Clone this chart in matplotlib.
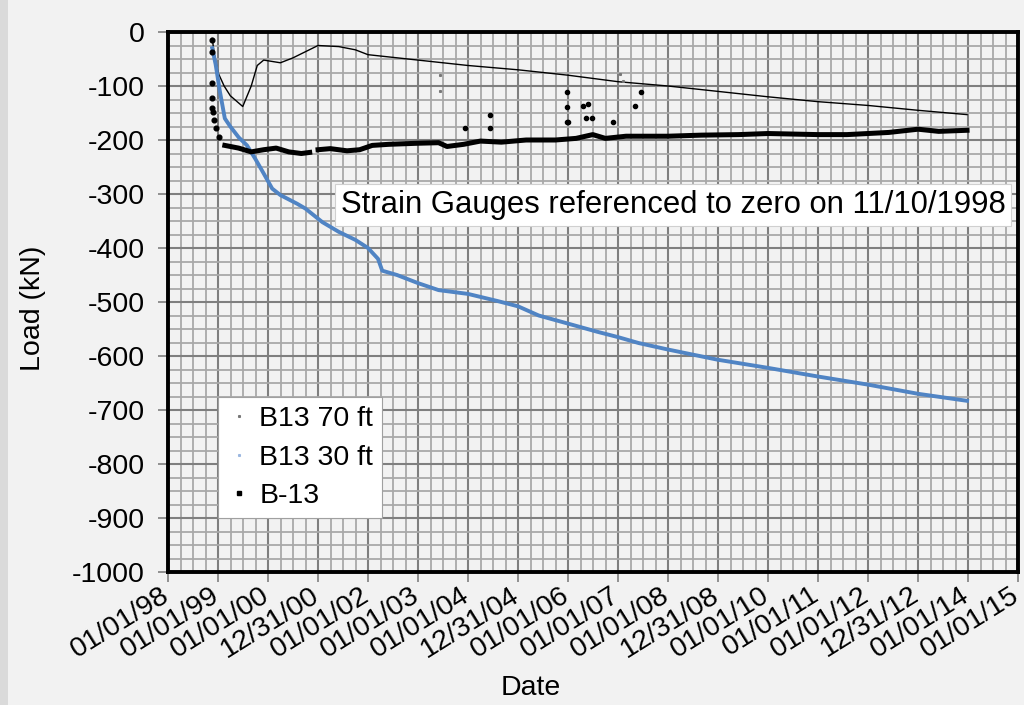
import matplotlib
matplotlib.use("Agg")
import matplotlib.pyplot as plt
import matplotlib.dates as mdates
import matplotlib.transforms as mtransforms
from matplotlib.lines import Line2D
from matplotlib.patches import Rectangle
import numpy as np
import pandas as pd

plt.rcParams['font.family'] = ['Liberation Sans', 'DejaVu Sans']

# ---------------- data ----------------
b70_dates = ["1998-11-20", "1998-12-05", "1999-01-01", "1999-02-15", "1999-04-01",
             "1999-07-01", "1999-09-01", "1999-10-15", "1999-12-01", "2000-04-01",
             "2000-07-01", "2001-01-01", "2001-06-01", "2001-10-01", "2002-01-01",
             "2003-01-01", "2004-01-01", "2005-01-01", "2006-01-01", "2007-01-01",
             "2008-01-01", "2009-01-01", "2010-01-01", "2011-01-01", "2012-01-01",
             "2013-01-01", "2013-12-25"]
b70_vals = [-12, -40, -75, -100, -118, -138, -100, -62, -52, -57,
            -48, -25, -27, -33, -42, -52, -62, -70, -80, -92,
            -100, -110, -120, -129, -136, -145, -153]

b70_extra_dates = ["2003-06-10", "2003-06-10", "2007-01-15", "2007-02-10"]
b70_extra_vals = [-80, -109, -78, -91]

b30_dates = ["1998-11-20", "1998-12-15", "1999-01-15", "1999-02-20", "1999-04-01",
             "1999-06-01", "1999-08-01", "1999-10-01", "1999-12-01", "2000-02-01",
             "2000-04-01", "2000-08-01", "2000-10-01", "2001-02-01", "2001-06-01",
             "2001-10-01", "2002-01-01", "2002-03-15", "2002-04-15", "2002-08-01",
             "2003-01-01", "2003-06-01", "2004-01-01", "2004-08-01", "2005-01-01",
             "2005-06-01", "2006-01-01", "2006-08-01", "2007-01-01", "2007-06-01",
             "2008-01-01", "2009-01-01", "2010-01-01", "2011-01-01", "2012-01-01",
             "2013-01-01", "2013-12-25"]
b30_vals = [-30, -60, -110, -160, -175, -195, -210, -235, -262, -290,
            -302, -318, -327, -352, -370, -385, -400, -420, -442, -450,
            -465, -478, -485, -498, -508, -525, -540, -555, -565, -576,
            -588, -607, -622, -638, -653, -670, -683]

b13_seg1_dates = ["1999-02-20", "1999-06-01", "1999-09-01", "1999-12-01", "2000-03-01",
                  "2000-06-01", "2000-09-01", "2000-11-01"]
b13_seg1_vals = [-210, -215, -222, -218, -215, -222, -225, -223]

b13_seg2_dates = ["2001-01-01", "2001-04-01", "2001-08-01", "2001-11-01", "2002-02-01",
                  "2002-06-01", "2003-01-01", "2003-06-01", "2003-08-01", "2003-12-01",
                  "2004-04-01", "2004-09-01", "2005-03-01", "2005-10-01", "2006-03-01",
                  "2006-07-01", "2006-10-01", "2007-03-01", "2008-01-01", "2008-09-01",
                  "2009-06-01", "2010-01-01", "2011-01-01", "2011-08-01", "2012-06-01",
                  "2013-01-01", "2013-06-01", "2013-12-25"]
b13_seg2_vals = [-218, -216, -220, -218, -210, -208, -206, -205, -212, -208,
                 -202, -204, -200, -200, -197, -190, -197, -193, -193, -191,
                 -190, -188, -190, -190, -186, -180, -184, -182]

b13_early_dates = ["1998-11-22", "1998-11-20", "1998-11-18", "1998-11-15", "1998-11-18",
                   "1998-11-28", "1998-12-05", "1998-12-15", "1999-01-05"]
b13_early_vals = [-15, -37, -95, -122, -141, -148, -163, -178, -194]

b13_out_dates = ["2005-12-25", "2005-12-25", "2005-12-28", "2006-01-01", "2006-04-20",
                 "2006-05-27", "2006-05-12", "2006-06-25", "2006-11-25", "2007-05-04",
                 "2007-06-17", "2003-12-08", "2004-06-09", "2004-06-09"]
b13_out_vals = [-111, -139, -167, -167, -137, -133, -159, -159, -167, -137,
                -111, -178, -154, -178]

tick_labels = ["01/01/98", "01/01/99", "01/01/00", "12/31/00", "01/01/02", "01/01/03",
               "01/01/04", "12/31/04", "01/01/06", "01/01/07", "01/01/08", "12/31/08",
               "01/01/10", "01/01/11", "01/01/12", "12/31/12", "01/01/14", "01/01/15"]
y_ticks = list(range(-1000, 1, 100))

series_names = ["B13 70 ft", "B13 30 ft", "B-13"]
annotation = "Strain Gauges referenced to zero on 11/10/1998"

# ---------------- figure ----------------
bg = "#f2f2f2"
W, H = 1024, 705
fig = plt.figure(figsize=(W / 100, H / 100), dpi=100, facecolor=bg)
fig.patches.append(Rectangle((0, 0), 8 / W, 1, transform=fig.transFigure,
                             facecolor="#dadada", edgecolor="none", zorder=0))
ax = fig.add_axes([168 / W, 1 - 572 / H, 850 / W, 540 / H])
ax.set_facecolor(bg)

def d(lst):
    return mdates.date2num(pd.to_datetime(lst).to_pydatetime())

start = mdates.date2num(pd.Timestamp("1998-01-01").to_pydatetime())
major = [start + i * 365.25 for i in range(len(tick_labels))]
minor = [start + i * 365.25 / 4 for i in range(4 * (len(tick_labels) - 1) + 1)]

FS = 20.5
ax.set_xlim(major[0], major[-1])
ax.set_ylim(-1000, 0)
ax.set_xticks(major)
ax.set_xticks(minor, minor=True)
ax.set_xticklabels([])
ax.set_yticks(y_ticks)
ax.set_yticks(np.arange(-1000, 1, 25), minor=True)
ax.set_yticklabels([str(v) for v in y_ticks], fontsize=FS)

# rotated date labels, drawn at the tick positions with a small offset
lab_tr = ax.get_xaxis_transform() + mtransforms.ScaledTranslation(-8 / 100, -10 / 100,
                                                                  fig.dpi_scale_trans)
for m, lab in zip(major, tick_labels):
    ax.text(m, 0, lab, transform=lab_tr, rotation=32, ha="right", va="top",
            rotation_mode="anchor", fontsize=FS, clip_on=False)

ax.grid(which="minor", color="#a8a8a8", lw=1.3, zorder=0)
ax.grid(which="major", color="#7f7f7f", lw=1.5, zorder=0)
ax.set_axisbelow(True)
ax.tick_params(axis="both", which="major", direction="out", length=7, width=1.2,
               color="#7f7f7f")
ax.tick_params(axis="y", which="major", pad=10)
ax.tick_params(axis="both", which="minor", length=0)
for s in ax.spines.values():
    s.set_linewidth(2.8)
    s.set_color("black")

# series
ax.plot(d(b70_dates), b70_vals, color="black", lw=1.0, zorder=3)
ax.plot(d(b70_extra_dates), b70_extra_vals, ls="none", marker="s", ms=1.2,
        color="#777777", zorder=3)
ax.plot(d(b30_dates), b30_vals, color="#5084c4", lw=2.8, zorder=4)
ax.plot(d(b13_seg1_dates), b13_seg1_vals, color="black", lw=3.6, zorder=5)
ax.plot(d(b13_seg2_dates), b13_seg2_vals, color="black", lw=3.6, zorder=5)
ax.plot(d(b13_early_dates), b13_early_vals, ls="none", marker="o", ms=3.4,
        color="black", zorder=5)
ax.plot(d(b13_out_dates), b13_out_vals, ls="none", marker="o", ms=3.0,
        color="black", zorder=5)

ax.set_ylabel("Load (kN)", fontsize=FS)
ax.yaxis.set_label_coords((33 - 168) / 850, (572 - 308) / 540)
ax.set_xlabel("Date", fontsize=FS)
ax.xaxis.set_label_coords((531 - 168) / 850, (572 - 688) / 540)
ax.xaxis.label.set_va("center")
ax.yaxis.label.set_va("center")

# annotation
ax.text((341 - 168) / 850, (572 - 205) / 540, annotation, transform=ax.transAxes,
        fontsize=22.3, va="center", ha="left", zorder=6,
        bbox=dict(boxstyle="square,pad=0.18", facecolor="white", edgecolor="#d0d0d0", lw=0.8))

# legend
handles = [Line2D([], [], ls="none", marker="s", ms=1.2, color="#777777"),
           Line2D([], [], ls="none", marker="s", ms=1.2, color="#9bb7e0"),
           Line2D([], [], ls="none", marker="s", ms=2.2, color="black")]
leg = ax.legend(handles, series_names, loc="lower left",
                bbox_to_anchor=((218 - 168) / 850, (572 - 518) / 540),
                borderaxespad=0,
                fontsize=FS, frameon=True, fancybox=False, framealpha=1,
                edgecolor="#a0a0a0", handlelength=0.9, handletextpad=0.25,
                borderpad=0.3, labelspacing=0.45)
leg.get_frame().set_linewidth(0.8)
leg.set_zorder(7)

fig.savefig("out.png", dpi=100, facecolor=bg)
